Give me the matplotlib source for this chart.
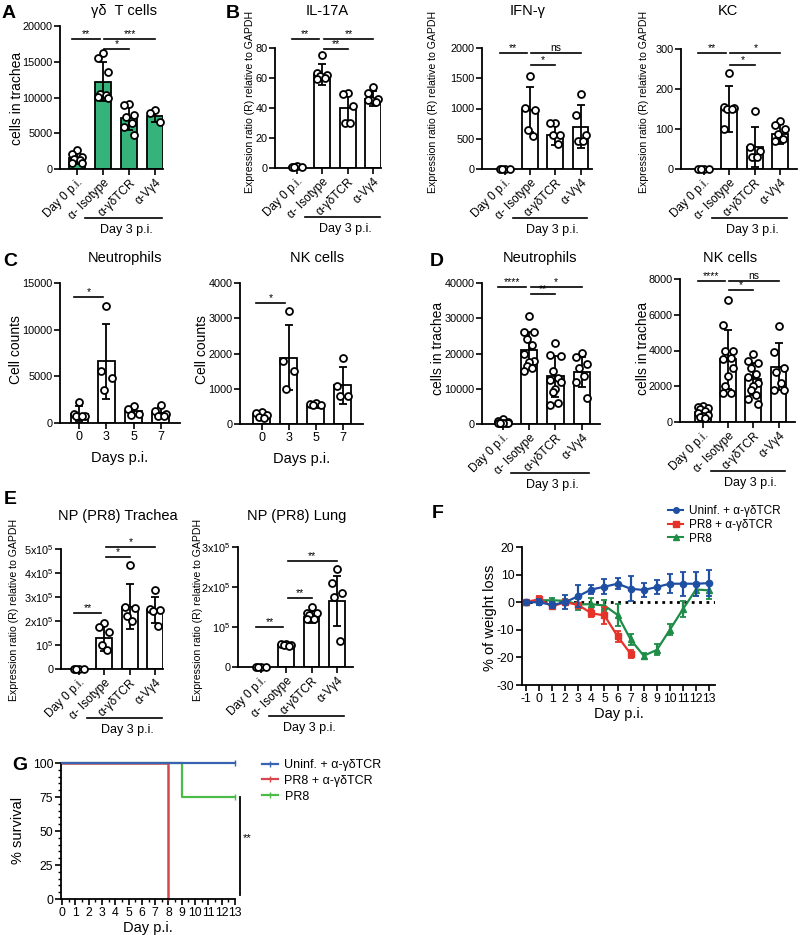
import numpy as np
import matplotlib.pyplot as plt
from matplotlib.lines import Line2D

plt.rcParams['font.family'] = ['Liberation Sans', 'DejaVu Sans']
plt.rcParams['mathtext.fontset'] = 'custom'
plt.rcParams['mathtext.rm'] = 'Liberation Sans'

# ---- data ----
groups = ['Day 0 p.i.', 'α- Isotype', 'α-γδTCR', 'α-Vγ4']
days_c = ['0', '3', '5', '7']

# A: gd T cells in trachea
gd_mean = [1500, 12200, 7200, 7400]
gd_sd = [800, 2700, 1700, 800]
gd_pts = [[2700, 2100, 1700, 1400, 1200, 900, 800],
          [16200, 15500, 13500, 10500, 10300, 10100, 10000],
          [9100, 8900, 7600, 7300, 6400, 5900, 4700],
          [8200, 7900, 6600]]

# B: cytokines
il17_mean = [1, 62, 40, 46]
il17_sd = [0.5, 7, 10, 5]
il17_pts = [[1.5, 0.5, 1, 0.8], [75, 63, 62, 61, 60, 59],
            [50, 49, 41, 30, 30], [54, 50, 46, 45, 44, 45]]
ifn_mean = [0, 980, 570, 700]
ifn_sd = [5, 370, 180, 360]
ifn_pts = [[0, 0, 0, 0], [1540, 1010, 970, 640, 540],
           [760, 760, 570, 560, 410], [1240, 900, 570, 470, 470]]
kc_mean = [0, 150, 55, 88]
kc_sd = [1, 58, 50, 25]
kc_pts = [[0, 0, 0, 0], [240, 155, 152, 150, 150, 100],
          [145, 55, 45, 30, 30], [120, 110, 100, 88, 75, 70]]

# C: kinetics
neut_c_mean = [1000, 6600, 1300, 1100]
neut_c_sd = [800, 4000, 450, 600]
neut_c_pts = [[2200, 1000, 800, 700, 700], [12500, 5600, 4800, 3500],
              [1800, 1500, 1000, 900], [1900, 1300, 1000, 800, 700]]
nk_c_mean = [250, 1880, 520, 1100]
nk_c_sd = [70, 920, 60, 520]
nk_c_pts = [[330, 300, 250, 200, 180], [3200, 1800, 1500, 1000],
            [600, 560, 550, 550], [1860, 1070, 800, 800]]

# D: depletion
neut_d_mean = [500, 20900, 13500, 14800]
neut_d_sd = [400, 5100, 5800, 4300]
neut_d_pts = [[1500, 900, 500, 400, 400, 300, 300, 200, 200],
              [30500, 26200, 26000, 24000, 22500, 20000, 18000, 17500, 16500, 16000, 15000],
              [23000, 19500, 19300, 15000, 13000, 12500, 12000, 10000, 9000, 6000, 5500],
              [20200, 19000, 17000, 16000, 13500, 12000, 7500]]
nk_d_mean = [550, 3500, 2400, 3100]
nk_d_sd = [250, 1650, 900, 1300]
nk_d_pts = [[900, 850, 800, 700, 600, 500, 400, 350, 300, 200],
            [6800, 5400, 4000, 4000, 3600, 3500, 3000, 2600, 2000, 1600, 1600],
            [3800, 3400, 3300, 3000, 2700, 2500, 2200, 2000, 1800, 1500, 1300, 1000],
            [5350, 3900, 3000, 2800, 2200, 1800, 1800]]

# E: NP (PR8), in units of 1e5
np_tr_mean = [0, 1.3, 2.6, 2.45]
np_tr_sd = [0.02, 0.55, 0.95, 0.55]
np_tr_pts = [[0, 0, 0, 0], [1.9, 1.75, 1.55, 1.0, 0.8],
             [4.35, 2.6, 2.55, 2.2, 2.0], [3.3, 2.5, 2.45, 2.4, 1.8]]
np_lu_mean = [0, 0.55, 1.25, 1.65]
np_lu_sd = [0.01, 0.03, 0.16, 0.63]
np_lu_pts = [[0, 0, 0, 0], [0.58, 0.58, 0.55, 0.55, 0.52],
             [1.5, 1.35, 1.35, 1.3, 1.2, 1.2], [2.45, 2.1, 1.85, 1.75, 0.65]]

# F: weight loss
days_f = list(range(-1, 14))
uninf_m = [0, 0, -1, 0, 2.2, 4.6, 5.6, 6.7, 4.9, 4.4, 5.5, 6.7, 6.7, 6.7, 6.9]
uninf_e = [0.5, 1, 1, 2.5, 4, 1.8, 2.7, 2, 4.6, 2.6, 2.6, 3.5, 4.3, 4.3, 4.8]
pr8tcr_days = list(range(-1, 8))
pr8tcr_m = [0, 1.1, -1.5, 0, -1, -4, -4.8, -12.3, -18.7]
pr8tcr_e = [0.5, 1, 1, 0.5, 0.8, 1.5, 3, 2, 1.5]
pr8_m = [0, 0.7, 0.7, 0.5, -0.8, -0.7, -1.2, -4.6, -13.5, -19.4, -17.3, -10, -2.5, 4.6, 4.3]
pr8_e = [0.5, 0.8, 0.8, 0.6, 2, 2.2, 2, 4, 2, 1, 2, 2, 3, 2.5, 3]

# G: survival
surv_uninf_t, surv_uninf_s = [0, 13], [100, 100]
surv_tcr_t, surv_tcr_s = [0, 8], [100, 0]
surv_pr8_t, surv_pr8_s = [0, 9, 13], [100, 75, 75]

W, H = 800, 935
fig = plt.figure(figsize=(W / 100, H / 100), dpi=100)


def axbox(x0, y0, x1, y1):
    ax = fig.add_axes([x0 / W, 1 - y1 / H, (x1 - x0) / W, (y1 - y0) / H])
    for s in ['top', 'right']:
        ax.spines[s].set_visible(False)
    for s in ['left', 'bottom']:
        ax.spines[s].set_linewidth(1.3)
    ax.tick_params(width=1.2, length=4, labelsize=7.8, pad=1.5)
    return ax


def ftext(x, y, s, **kw):
    fig.text(x / W, 1 - y / H, s, **kw)


jit = np.array([0, -1, 1, -0.5, 0.5, -1, 1, 0, -0.5, 0.5, -1, 1]) * 0.2


def bar_panel(ax, mean, sd, pts, labels, ylim, yticks, sig, xlim,
              color='white', rotate=True):
    x = np.arange(len(mean))
    ax.bar(x, mean, width=0.62, color=color, edgecolor='k', lw=1.3, zorder=1)
    ax.errorbar(x, mean, yerr=sd, fmt='none', ecolor='k', elinewidth=1.3,
                capsize=3, capthick=1.3, zorder=2)
    for i, p in enumerate(pts):
        ax.plot(i + jit[:len(p)], p, 'o', ms=5, mfc='white', mec='k', mew=1.3,
                zorder=3, clip_on=False)
    ax.set_xlim(*xlim)
    ax.set_ylim(*ylim)
    ax.set_yticks(yticks)
    ax.set_xticks(x)
    if rotate:
        ax.set_xticklabels(labels, rotation=45, ha='right', rotation_mode='anchor',
                           fontsize=8.5)
    else:
        ax.set_xticklabels(labels, fontsize=9)
    for i, j, y, s in sig:
        a = i - 0.2 if i == 0 else i + 0.05
        b = j - 0.12 if i == 0 else j
        ax.plot([a, b], [y, y], color='k', lw=1.2, clip_on=False)
        ax.text((a + b) / 2, y, s, ha='center', va='bottom', fontsize=7.5,
                clip_on=False)


def day3(ax):
    h = ax.get_position().height * H
    tr = ax.get_xaxis_transform()
    ax.plot([0.32, 3.27], [-49 / h] * 2, transform=tr, color='k', lw=1.2, clip_on=False)
    ax.text(1.9, -61 / h, 'Day 3 p.i.', transform=tr, ha='center', va='center',
            fontsize=9)


# ---- A ----
ax = axbox(60, 26, 163, 169)
bar_panel(ax, gd_mean, gd_sd, gd_pts, groups, (0, 20000), range(0, 20001, 5000),
          [(0, 1, 18200, '**'), (1, 3, 18200, '***'), (1, 2, 16800, '*')],
          (-0.65, 3.3), color='#36b37a')
day3(ax)
ftext(124, 11, 'γδ  T cells', ha='center', va='center', fontsize=10.5)
ftext(17, 98, 'cells in trachea', rotation=90, ha='center', va='center', fontsize=10)

# ---- B ----
ylab_e = 'Expression ratio (R) relative to GAPDH'
ax = axbox(275, 48, 381, 168)
bar_panel(ax, il17_mean, il17_sd, il17_pts, groups, (0, 80), range(0, 81, 20),
          [(0, 1, 86, '**'), (1, 3, 86, '**'), (1, 2, 79, '**')], (-0.85, 3.3))
day3(ax)
ftext(327, 11, 'IL-17A', ha='center', va='center', fontsize=10.5)
ftext(250, 102, ylab_e, rotation=90, ha='center', va='center', fontsize=7.6)

ax = axbox(482, 48, 592, 169)
bar_panel(ax, ifn_mean, ifn_sd, ifn_pts, groups, (0, 2000), range(0, 2001, 500),
          [(0, 1, 1920, '**'), (1, 3, 1920, 'ns'), (1, 2, 1720, '*')], (-0.9, 3.45))
day3(ax)
ftext(528, 11, 'IFN-γ', ha='center', va='center', fontsize=10.5)
ftext(433, 102, ylab_e, rotation=90, ha='center', va='center', fontsize=7.6)

ax = axbox(681, 49, 797, 169)
bar_panel(ax, kc_mean, kc_sd, kc_pts, groups, (0, 300), range(0, 301, 100),
          [(0, 1, 290, '**'), (1, 3, 290, '*'), (1, 2, 260, '*')], (-0.88, 3.65))
day3(ax)
ftext(728, 11, 'KC', ha='center', va='center', fontsize=10.5)
ftext(644, 102, ylab_e, rotation=90, ha='center', va='center', fontsize=7.6)

# ---- C ----
ax = axbox(60, 283, 180, 423)
bar_panel(ax, neut_c_mean, neut_c_sd, neut_c_pts, days_c, (0, 15000),
          range(0, 15001, 5000), [(0, 1, 13500, '*')], (-0.7, 3.7), rotate=False)
ax.set_xlabel('Days p.i.', fontsize=10.5, labelpad=6)
ftext(125, 258, 'Neutrophils', ha='center', va='center', fontsize=10.5)
ftext(16, 350, 'Cell counts', rotation=90, ha='center', va='center', fontsize=10)

ax = axbox(240, 283, 363, 424)
bar_panel(ax, nk_c_mean, nk_c_sd, nk_c_pts, days_c, (0, 4000),
          range(0, 4001, 1000), [(0, 1, 3440, '*')], (-0.8, 3.75), rotate=False)
ax.set_xlabel('Days p.i.', fontsize=10.5, labelpad=6)
ftext(317, 258, 'NK cells', ha='center', va='center', fontsize=10.5)
ftext(202, 350, 'Cell counts', rotation=90, ha='center', va='center', fontsize=10)

# ---- D ----
ax = axbox(482, 283, 600, 424)
bar_panel(ax, neut_d_mean, neut_d_sd, neut_d_pts, groups, (0, 40000),
          range(0, 40001, 10000),
          [(0, 1, 38900, '****'), (1, 3, 38900, '*'), (1, 2, 36900, '**')], (-0.8, 3.7))
day3(ax)
ftext(540, 258, 'Neutrophils', ha='center', va='center', fontsize=10.5)
ftext(438, 348, 'cells in trachea', rotation=90, ha='center', va='center', fontsize=10)

ax = axbox(680, 279, 795, 422)
bar_panel(ax, nk_d_mean, nk_d_sd, nk_d_pts, groups, (0, 8000),
          range(0, 8001, 2000),
          [(0, 1, 7900, '****'), (1, 3, 7900, 'ns'), (1, 2, 7380, '*')], (-0.9, 3.65))
day3(ax)
ftext(730, 258, 'NK cells', ha='center', va='center', fontsize=10.5)
ftext(643, 348, 'cells in trachea', rotation=90, ha='center', va='center', fontsize=10)

# ---- E ----
e_lab = ['0', r'$10^5$', r'2x$10^5$', r'3x$10^5$', r'4x$10^5$', r'5x$10^5$']
ax = axbox(61, 549, 163, 669)
bar_panel(ax, np_tr_mean, np_tr_sd, np_tr_pts, groups, (0, 5), range(0, 6),
          [(0, 1, 2.33, '**'), (1, 3, 5.08, '*'), (1, 2, 4.67, '*')], (-0.7, 3.3))
ax.set_yticklabels(e_lab)
day3(ax)
ftext(118, 516, 'NP (PR8) Trachea', ha='center', va='center', fontsize=10.5)
ftext(14, 610, ylab_e, rotation=90, ha='center', va='center', fontsize=7.6)

ax = axbox(238, 547, 353, 667)
bar_panel(ax, np_lu_mean, np_lu_sd, np_lu_pts, groups, (0, 3), range(0, 4),
          [(0, 1, 1.0, '**'), (1, 2, 1.72, '**'), (1, 3, 2.65, '**')], (-0.9, 3.63))
ax.set_yticklabels(e_lab[:4])
day3(ax)
ftext(297, 516, 'NP (PR8) Lung', ha='center', va='center', fontsize=10.5)
ftext(198, 610, ylab_e, rotation=90, ha='center', va='center', fontsize=7.6)

# ---- F ----
c_blue, c_red, c_green = '#1f4fa3', '#e5332a', '#1f8c48'
ax = axbox(522, 547, 715, 685)
ax.axhline(0, color='k', ls=':', lw=2, zorder=1)
ax.errorbar(days_f, uninf_m, yerr=uninf_e, color=c_blue, marker='o', ms=4.5,
            lw=1.6, capsize=2.5, capthick=1.3, zorder=4)
ax.errorbar(pr8tcr_days, pr8tcr_m, yerr=pr8tcr_e, color=c_red, marker='s', ms=4.5,
            lw=1.6, capsize=2.5, capthick=1.3, zorder=3)
ax.errorbar(days_f, pr8_m, yerr=pr8_e, color=c_green, marker='^', ms=5,
            lw=1.6, capsize=2.5, capthick=1.3, zorder=2)
ax.set_xlim(-1.3, 13.45)
ax.set_ylim(-30, 20)
ax.set_xticks(days_f)
ax.set_xticklabels([str(d) for d in days_f])
ax.set_yticks(range(-30, 21, 10))
ax.set_yticklabels([str(v) for v in range(-30, 21, 10)])
ax.tick_params(labelsize=8.8)
ax.set_xlabel('Day p.i.', fontsize=10.5, labelpad=2)
ftext(490, 618, '% of weight loss', rotation=90, ha='center', va='center', fontsize=10.5)
hf = [Line2D([], [], color=c_blue, marker='o', ms=4, lw=1.5),
      Line2D([], [], color=c_red, marker='s', ms=4, lw=1.5),
      Line2D([], [], color=c_green, marker='^', ms=4.5, lw=1.5)]
ax.legend(hf, ['Uninf. + α-γδTCR', 'PR8 + α-γδTCR', 'PR8'], loc='upper left',
          bbox_to_anchor=(668 / W, 1 - 505 / H), bbox_transform=fig.transFigure,
          frameon=False, fontsize=8.5, handlelength=1.3, handletextpad=0.5,
          labelspacing=0.15, borderaxespad=0, borderpad=0)

# ---- G ----
g_blue, g_red, g_green = '#3a62b3', '#d7474b', '#4dbb47'
ax = axbox(61, 763, 235, 899)
ax.plot(surv_uninf_t, surv_uninf_s, drawstyle='steps-post', color=g_blue, lw=1.6,
        clip_on=False, zorder=3)
ax.plot(surv_tcr_t, surv_tcr_s, drawstyle='steps-post', color=g_red, lw=1.8,
        clip_on=False, zorder=2)
ax.plot(surv_pr8_t, surv_pr8_s, drawstyle='steps-post', color=g_green, lw=1.6,
        clip_on=False, zorder=2)
ax.plot([surv_uninf_t[-1]], [surv_uninf_s[-1]], '|', color=g_blue, ms=4, clip_on=False)
ax.plot([surv_pr8_t[-1]], [surv_pr8_s[-1]], '|', color=g_green, ms=4, clip_on=False)
ax.set_xlim(-0.08, 13)
ax.set_ylim(0, 100)
ax.set_xticks(range(0, 14))
ax.set_xticks(np.arange(0, 13.1, 0.5), minor=True)
ax.set_yticks(range(0, 101, 25))
ax.set_yticks(range(0, 101, 5), minor=True)
ax.tick_params(which='minor', length=2.5, width=1)
ax.tick_params(labelsize=8.8)
ax.set_xlabel('Day p.i.', fontsize=10.5, labelpad=2)
ax.plot([13.38, 13.38], [75, 3], color='k', lw=1.3, clip_on=False)
ax.text(13.6, 45, '**', fontsize=8, va='center', ha='left')
ftext(18, 830, '% survival', rotation=90, ha='center', va='center', fontsize=10.5)
hg = [Line2D([], [], color=g_blue, marker='|', ms=4, lw=1.6),
      Line2D([], [], color=g_red, marker='|', ms=4, lw=1.6),
      Line2D([], [], color=g_green, marker='|', ms=4, lw=1.6)]
ax.legend(hg, ['Uninf. + α-γδTCR', 'PR8 + α-γδTCR', 'PR8'], loc='upper left',
          bbox_to_anchor=(262 / W, 1 - 759 / H), bbox_transform=fig.transFigure,
          frameon=False, fontsize=9, handlelength=1.3, handletextpad=0.5,
          labelspacing=0.3, borderaxespad=0, borderpad=0)

# panel letters
for lab, x, y in [('A', 9, 13), ('B', 233, 13), ('C', 10, 262), ('D', 437, 262),
                  ('E', 10, 500), ('F', 438, 513), ('G', 20, 765)]:
    ftext(x, y, lab, ha='center', va='center', fontsize=14, fontweight='bold')

fig.savefig('out.png', dpi=100)
